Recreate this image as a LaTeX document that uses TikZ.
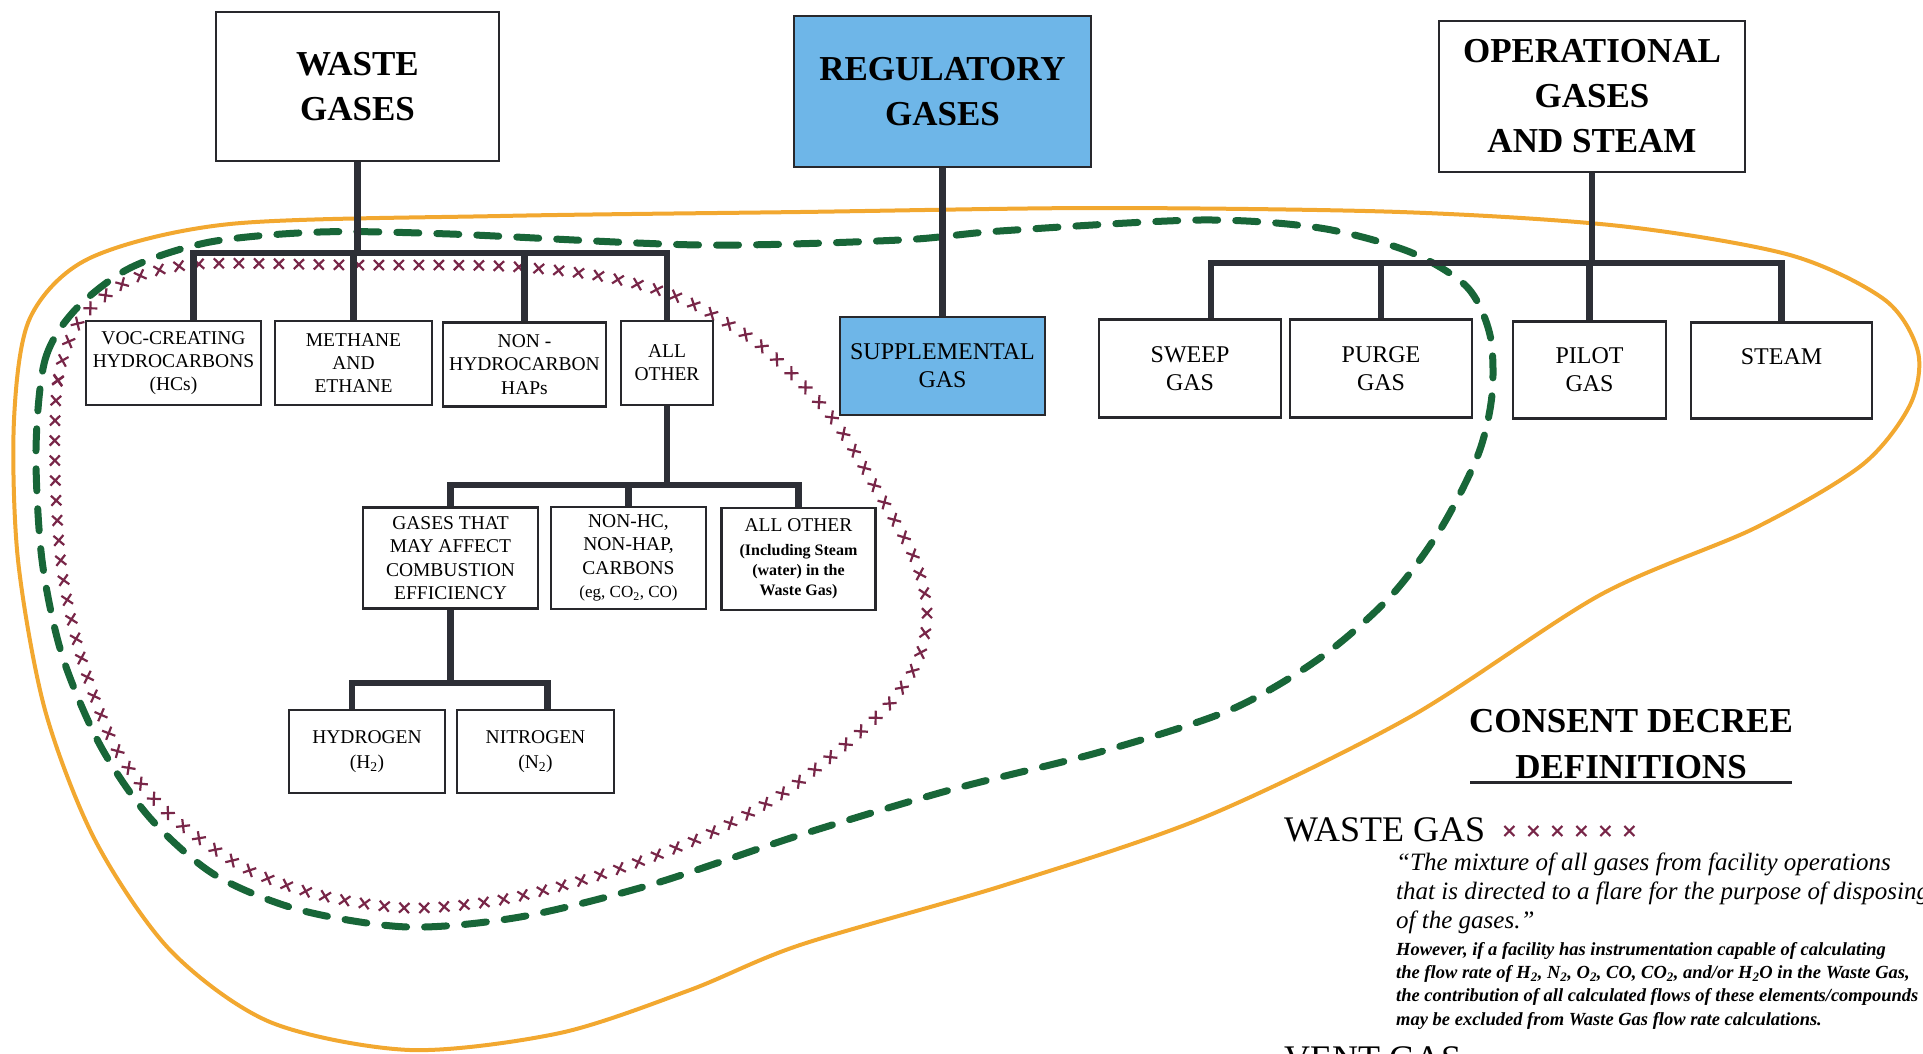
\documentclass[tikz,border=0pt]{standalone}
\usepackage{fontspec}
\setmainfont{Liberation Serif}
\usetikzlibrary{calc,positioning,decorations.markings}

\definecolor{boxline}{RGB}{40,40,44}
\definecolor{linkgray}{RGB}{45,47,54}
\definecolor{regblue}{RGB}{110,182,232}
\definecolor{flareorange}{RGB}{242,168,48}
\definecolor{cdgreen}{RGB}{24,102,56}
\definecolor{xmaroon}{RGB}{120,38,72}

\newcommand{\inclfont}{\fontsize{16}{20}\selectfont\bfseries}

\tikzset{
  gasbox/.style={draw=boxline, line width=2.5pt, fill=white, align=center, inner sep=0pt},
  topfont/.style={font=\fontsize{35}{45}\selectfont\bfseries},
  midfont/.style={font=\fontsize{19.5}{23.3}\selectfont},
  opfont/.style={font=\fontsize{24}{28}\selectfont},
  link/.style={draw=linkgray, line width=6.5pt},
  orangeloop/.style={draw=flareorange, line width=4pt},
  greenloop/.style={draw=cdgreen, line width=7pt, line cap=round, dash pattern=on 22pt off 18pt},
  xmarks/.style={postaction={decorate}, decoration={markings,
      mark=between positions 0 and 1 step #1 with {\draw[xmaroon, line width=2.2pt] (-5pt,-5pt) -- (5pt,5pt) (-5pt,5pt) -- (5pt,-5pt);}}},
}

\begin{document}
\begin{tikzpicture}[x=1pt,y=-1pt]
  \useasboundingbox (0,0) rectangle (1923,1053);
  \clip (0,0) rectangle (1923,1053);

  \draw[orangeloop] plot[smooth cycle] coordinates {(14,420) (30,318) (90,258) (230,224) (500,216) (800,212) (1100,208) (1400,212) (1620,226) (1790,255) (1885,300) (1918,352) (1910,405) (1862,465) (1755,528) (1600,595) (1410,717) (1205,817) (1005,885) (800,945) (690,990) (560,1033) (410,1050) (270,1022) (170,950) (95,840) (45,710) (18,560)};
  \draw[greenloop] plot[smooth cycle] coordinates {(36,450) (45,360) (75,310) (130,268) (210,242) (320,232) (450,234) (700,245) (900,240) (1000,231) (1200,220) (1320,228) (1410,252) (1467,287) (1490,335) (1492,395) (1478,455) (1440,530) (1390,597) (1320,658) (1230,710) (1100,752) (950,790) (800,835) (650,885) (520,917) (408,927) (300,910) (215,875) (150,818) (100,745) (62,655) (42,560)};
  \path[xmarks=20pt] plot[smooth cycle] coordinates {(55,470) (58,380) (80,320) (130,280) (200,264) (350,265) (500,266) (600,276) (680,298) (760,345) (830,415) (880,495) (915,560) (927,612) (918,660) (890,703) (845,745) (780,795) (700,838) (600,875) (500,900) (408,908) (320,895) (245,868) (170,815) (117,750) (82,660) (62,570)};

  \node[gasbox, topfont, minimum width=283, minimum height=149] (waste) at (357.5,86.5) {WASTE\\GASES};
  \node[gasbox, topfont, fill=regblue, minimum width=297, minimum height=151] (reg) at (942.5,91.5) {REGULATORY\\GASES};
  \node[gasbox, topfont, minimum width=306, minimum height=151] (oper) at (1592,96.5) {OPERATIONAL\\GASES\\AND STEAM};

  \node[gasbox, midfont, minimum width=175, minimum height=84] (voc) at (173.5,363) {VOC-CREATING\\HYDROCARBONS\\(HCs)};
  \node[gasbox, midfont, minimum width=157, minimum height=84] (meth) at (353.5,363) {METHANE\\AND\\ETHANE};
  \node[gasbox, midfont, minimum width=163, minimum height=84] (nonhc) at (524.5,364.5) {NON -\\HYDROCARBON\\HAPs};
  \node[gasbox, midfont, minimum width=92, minimum height=84] (allot) at (667,363) {ALL\\OTHER};

  \node[gasbox, midfont, minimum width=175, minimum height=101] (combust) at (450.5,558) {GASES THAT\\MAY AFFECT\\COMBUSTION\\EFFICIENCY};
  \node[gasbox, midfont, minimum width=155, minimum height=102] (carbons) at (628.5,558) {NON-HC,\\NON-HAP,\\CARBONS\\\fontsize{17}{20}\selectfont(eg, CO\textsubscript{2}, CO)};
  \node[gasbox, midfont, minimum width=154, minimum height=102] (allother) at (798.5,559) {ALL OTHER\\\inclfont(Including Steam\\[-3pt]\inclfont(water) in the\\[-3pt]\inclfont Waste Gas)};

  \node[gasbox, midfont, minimum width=156, minimum height=83] (hydro) at (367,751.5) {HYDROGEN\\[1.7pt](H\textsubscript{2})};
  \node[gasbox, midfont, minimum width=157, minimum height=83] (nitro) at (535.5,751.5) {NITROGEN\\[1.7pt](N\textsubscript{2})};

  \node[gasbox, opfont, fill=regblue, minimum width=205, minimum height=98] (supp) at (942.5,366) {SUPPLEMENTAL\\GAS};
  \node[gasbox, opfont, minimum width=182, minimum height=98] (sweep) at (1190,368.5) {SWEEP\\GAS};
  \node[gasbox, opfont, minimum width=182, minimum height=98] (purge) at (1381,368.5) {PURGE\\GAS};
  \node[gasbox, opfont, minimum width=153, minimum height=97] (pilot) at (1589.5,370) {PILOT\\GAS};
  \node[gasbox, opfont, minimum width=181, minimum height=96] (steam) at (1781.5,370.5) {STEAM\\~};

  \coordinate (wbar) at (356,253);
  \draw[link] (waste.south) -- (waste.south |- wbar);
  \draw[link] ($(voc.north)+(20,0)$) |- (wbar) -| (allot.north);
  \draw[link] (meth.north) -- (meth.north |- wbar);
  \draw[link] (nonhc.north) -- (nonhc.north |- wbar);

  \coordinate (abar) at (667,485);
  \draw[link] (allot.south) -- (allot.south |- abar);
  \draw[link] (combust.north) |- (abar) -| (allother.north);
  \draw[link] (carbons.north) -- (carbons.north |- abar);

  \coordinate (cbar) at (452,683);
  \draw[link] (combust.south) -- (combust.south |- cbar);
  \draw[link] ($(hydro.north)+(-15,0)$) |- (cbar) -| ($(nitro.north)+(12,0)$);

  \draw[link] (reg.south) -- (supp.north);

  \coordinate (obar) at (1592,263);
  \draw[link] (oper.south) -- (oper.south |- obar);
  \draw[link] ($(sweep.north)+(21,0)$) |- (obar) -| (steam.north);
  \draw[link] (purge.north) -- (purge.north |- obar);
  \draw[link] (pilot.north) -- (pilot.north |- obar);

  \node[font=\fontsize{35}{46}\selectfont\bfseries, align=center, inner sep=0pt] (cdd) at (1631,744) {CONSENT DECREE\\DEFINITIONS};
  \draw[boxline, line width=3pt] ($(cdd.south)+(-161,4)$) -- ($(cdd.south)+(161,4)$);

  \node[font=\fontsize{36}{40}\selectfont, anchor=base west, inner sep=0pt] (wgas) at (1284,841) {WASTE GAS};
  \path[xmarks=24pt] ($(wgas.base east)+(24,-10)$) -- ++(125,0);

  \node[font=\fontsize{25}{29}\selectfont\itshape, anchor=north west, align=left, inner sep=0pt] (quote) at (1396,853) {“The mixture of all gases from facility operations\\that is directed to a flare for the purpose of disposing\\of the gases.”};
  \node[font=\fontsize{18.5}{23.3}\selectfont\bfseries\itshape, anchor=north west, align=left, inner sep=0pt] (however) at (1396,942) {However, if a facility has instrumentation capable of calculating\\the flow rate of H\textsubscript{2}, N\textsubscript{2}, O\textsubscript{2}, CO, CO\textsubscript{2}, and/or H\textsubscript{2}O in the Waste Gas,\\the contribution of all calculated flows of these elements/compounds\\may be excluded from Waste Gas flow rate calculations.};

  \node[font=\fontsize{36}{40}\selectfont, anchor=base west, inner sep=0pt] (vgas) at (1284,1070) {VENT GAS};
\end{tikzpicture}
\end{document}
